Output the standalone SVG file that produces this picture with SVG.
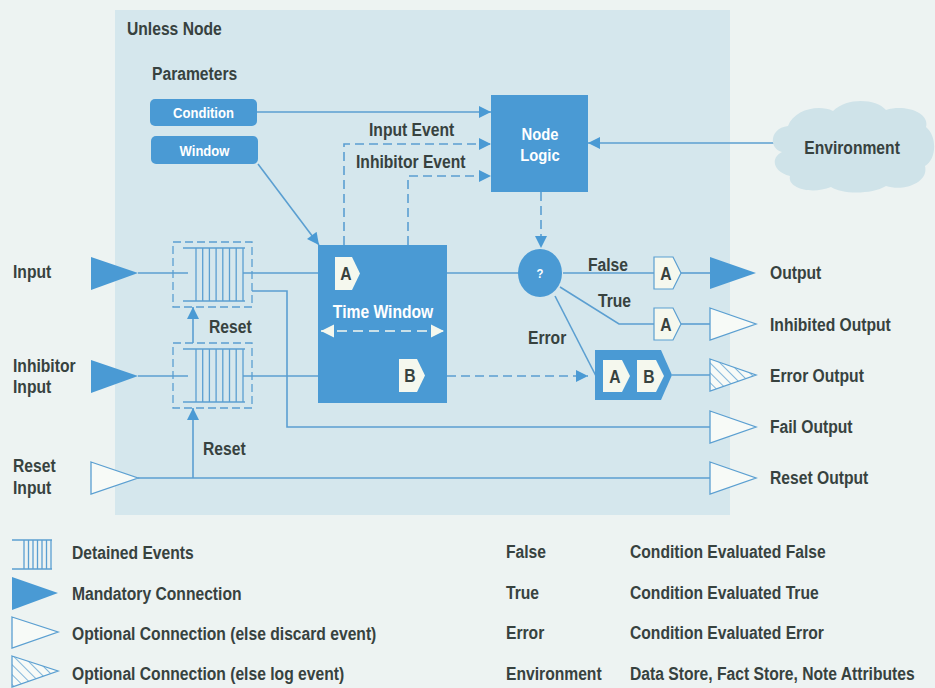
<svg xmlns="http://www.w3.org/2000/svg" width="935" height="688" viewBox="0 0 935 688">
<style>
.t,.w{font-family:"Liberation Sans",Arial,sans-serif;font-weight:bold;transform-box:fill-box;transform-origin:0% 50%;transform:scaleX(0.87)}
.t{font-size:18px;fill:#37423f}
.w{font-size:15px;fill:#ffffff}
.c{transform-origin:50% 50%}
.ln{fill:none;stroke:#5b9fd1;stroke-width:1.6}
.dash{stroke-dasharray:9,5}
.lt{fill:none;stroke:#d8ecf8;stroke-width:1.6}
.blue{fill:#4a9ad4}
.tag{fill:#f5f8ee;stroke:#5b9fd1;stroke-width:1.2}
.tagw{fill:#f5f8ee}
.tri-f{fill:#4a9ad4}
.tri-o{fill:#f7faf7;stroke:#5b9fd1;stroke-width:1.3}
.tri-h{fill:url(#hatch);stroke:#5b9fd1;stroke-width:1.3}
.buf{fill:none;stroke:#5b9fd1;stroke-width:1.3}
.bufd{fill:none;stroke:#5b9fd1;stroke-width:1.3;stroke-dasharray:8,4}
</style>
<defs>
<marker id="ah" viewBox="0 0 10 10" refX="10" refY="5" markerWidth="13" markerHeight="12" markerUnits="userSpaceOnUse" orient="auto">
<path d="M0,0 L10,5 L0,10 z" fill="#4a9ad4"/>
</marker>
<marker id="ahw" viewBox="0 0 10 10" refX="10" refY="5" markerWidth="13" markerHeight="14" markerUnits="userSpaceOnUse" orient="auto">
<path d="M0,0 L10,5 L0,10 z" fill="#f5f8ee"/>
</marker>
<marker id="ahws" viewBox="0 0 10 10" refX="0" refY="5" markerWidth="13" markerHeight="14" markerUnits="userSpaceOnUse" orient="auto">
<path d="M10,0 L0,5 L10,10 z" fill="#f5f8ee"/>
</marker>
<pattern id="hatch" patternUnits="userSpaceOnUse" width="7" height="7" patternTransform="rotate(-45)">
<rect width="7" height="7" fill="#f7faf7"/>
<line x1="0" y1="0" x2="0" y2="7" stroke="#5b9fd1" stroke-width="1.5"/>
</pattern>
</defs>

<rect x="0" y="0" width="935" height="688" fill="#edf3f2"/>
<rect x="115" y="10" width="615" height="505" fill="#d5e7ed"/>

<g id="connectors">
<line class="ln" x1="257" y1="112" x2="491" y2="112" marker-end="url(#ah)"/>
<polyline class="ln dash" points="344,245 344,144 491,144" marker-end="url(#ah)"/>
<line class="lt dash" x1="344" y1="245" x2="344" y2="257"/>
<polyline class="ln dash" points="408,245 408,176 491,176" marker-end="url(#ah)"/>
<line class="lt dash" x1="408" y1="245" x2="408" y2="359"/>
<line class="ln" x1="775" y1="143" x2="588" y2="143" marker-end="url(#ah)"/>
<line class="ln dash" x1="541" y1="192" x2="541" y2="248" marker-end="url(#ah)"/>
<line class="ln" x1="258" y1="164" x2="319" y2="245" marker-end="url(#ah)"/>
<line class="ln" x1="138" y1="273" x2="188" y2="273"/>
<line class="ln" x1="243" y1="273" x2="318" y2="273"/>
<line class="lt" x1="318" y1="273" x2="335" y2="273"/>
<line class="lt" x1="360" y1="273" x2="447" y2="273"/>
<line class="ln" x1="447" y1="273" x2="518" y2="273"/>
<line class="ln" x1="138" y1="376" x2="188" y2="376"/>
<line class="ln" x1="243" y1="376" x2="318" y2="376"/>
<line class="lt" x1="318" y1="376" x2="399" y2="376"/>
<line class="lt" x1="425" y1="376" x2="447" y2="376"/>
<line class="ln dash" x1="447" y1="376" x2="588" y2="376" marker-end="url(#ah)"/>
<polyline class="ln" points="252,291 287,291 287,427 710,427"/>
<line class="ln" x1="138" y1="478" x2="710" y2="478"/>
<line class="ln" x1="193" y1="478" x2="193" y2="408" marker-end="url(#ah)"/>
<line class="ln" x1="193" y1="343" x2="193" y2="307" marker-end="url(#ah)"/>
<line class="ln" x1="563" y1="273" x2="654" y2="273"/>
<line class="ln" x1="681" y1="273" x2="710" y2="273"/>
<polyline class="ln" points="560,287 619,324 654,324"/>
<line class="ln" x1="681" y1="324" x2="710" y2="324"/>
<line class="ln" x1="555" y1="296" x2="597" y2="378"/>
<line class="ln" x1="672" y1="375" x2="710" y2="375"/>
</g>

<text class="t" x="127" y="35">Unless Node</text>
<text class="t" x="152" y="80">Parameters</text>

<g id="condition">
<rect class="blue" x="150" y="99" width="107" height="27" rx="5"/>
<text class="w c" x="203.5" y="118" text-anchor="middle">Condition</text>
</g>
<g id="window">
<rect class="blue" x="151" y="136" width="107" height="28" rx="5"/>
<text class="w c" x="204.5" y="156" text-anchor="middle">Window</text>
</g>

<g id="node-logic">
<rect class="blue" x="491" y="95" width="97" height="97"/>
<text class="w c" x="540" y="140" text-anchor="middle" style="font-size:17px">Node</text>
<text class="w c" x="540" y="161" text-anchor="middle" style="font-size:17px">Logic</text>
</g>
<text class="t" x="369" y="136">Input Event</text>
<text class="t" x="356" y="168">Inhibitor Event</text>

<g id="environment">
<path d="M782,152 C768,148 770,128 788,126 C794,110 818,104 833,111 C848,97 876,99 886,110 C906,104 930,113 926,127 C938,137 936,160 925,166 C929,182 905,192 886,186 C871,195 841,194 831,187 C811,195 787,188 790,176 C773,172 770,158 782,152 Z" fill="#cfe3e9"/>
<text class="t c" x="852" y="154" text-anchor="middle">Environment</text>
</g>

<g id="time-window">
<rect class="blue" x="318" y="245" width="129" height="158"/>
<text class="w c" x="383" y="318" text-anchor="middle" style="font-size:18px">Time Window</text>
<line x1="321" y1="331" x2="444" y2="331" stroke="#f5f8ee" stroke-width="1.6" stroke-dasharray="10,6" marker-start="url(#ahws)" marker-end="url(#ahw)"/>
<path class="tagw" d="M335,257 L352,257 L360,273.5 L352,290 L335,290 Z"/>
<text class="t c" x="346" y="280" text-anchor="middle">A</text>
<path class="tagw" d="M399,359 L417,359 L425,375.5 L417,392 L399,392 Z"/>
<text class="t c" x="410" y="382" text-anchor="middle">B</text>
</g>

<g id="decision">
<ellipse class="blue" cx="540" cy="273" rx="22" ry="24"/>
<text class="w c" x="540" y="278" text-anchor="middle" style="font-size:13px">?</text>
</g>
<text class="t" x="588" y="271">False</text>
<text class="t" x="598" y="307">True</text>
<text class="t" x="528" y="344">Error</text>

<g id="buffer-input">
<rect class="bufd" x="173" y="242" width="79" height="65"/>
<line class="buf" x1="183" y1="248" x2="245" y2="248"/>
<line class="buf" x1="183" y1="301" x2="245" y2="301"/>
<path class="buf" d="M196,248V301M202.7,248V301M209.4,248V301M216.1,248V301M222.8,248V301M229.5,248V301M236.2,248V301M243,248V301"/>
</g>
<g id="buffer-inhibitor">
<rect class="bufd" x="173" y="343" width="79" height="65"/>
<line class="buf" x1="183" y1="349" x2="245" y2="349"/>
<line class="buf" x1="183" y1="402" x2="245" y2="402"/>
<path class="buf" d="M196,349V402M202.7,349V402M209.4,349V402M216.1,349V402M222.8,349V402M229.5,349V402M236.2,349V402M243,349V402"/>
</g>
<text class="t" x="209" y="333">Reset</text>
<text class="t" x="203" y="455">Reset</text>

<g id="input">
<path class="tri-f" d="M91,257 L138,273 L91,290 Z"/>
<text class="t" x="13" y="278">Input</text>
</g>
<g id="inhibitor-input">
<path class="tri-f" d="M91,360 L138,376 L91,393 Z"/>
<text class="t" x="13" y="372">Inhibitor</text>
<text class="t" x="13" y="393">Input</text>
</g>
<g id="reset-input">
<path class="tri-o" d="M91,462 L138,478 L91,494 Z"/>
<text class="t" x="13" y="472">Reset</text>
<text class="t" x="13" y="494">Input</text>
</g>

<g id="tag-false">
<path class="tag" d="M654,257 L673,257 L681,273 L673,289 L654,289 Z"/>
<text class="t c" x="666" y="280" text-anchor="middle">A</text>
</g>
<g id="tag-true">
<path class="tag" d="M654,308 L673,308 L681,324 L673,340 L654,340 Z"/>
<text class="t c" x="666" y="331" text-anchor="middle">A</text>
</g>
<g id="tag-error">
<path class="blue" d="M595,350 L661,350 L672,375 L661,400 L595,400 Z"/>
<path class="tagw" d="M603,360 L622,360 L630,376 L622,392 L603,392 Z"/>
<text class="t c" x="615" y="383" text-anchor="middle">A</text>
<path class="tagw" d="M637,360 L656,360 L664,376 L656,392 L637,392 Z"/>
<text class="t c" x="649" y="383" text-anchor="middle">B</text>
</g>

<g id="output">
<path class="tri-f" d="M710,257 L756,273 L710,289 Z"/>
<text class="t" x="770" y="279">Output</text>
</g>
<g id="inhibited-output">
<path class="tri-o" d="M710,308 L756,324 L710,340 Z"/>
<text class="t" x="770" y="331">Inhibited Output</text>
</g>
<g id="error-output">
<path class="tri-h" d="M710,359 L756,375 L710,391 Z"/>
<text class="t" x="770" y="382">Error Output</text>
</g>
<g id="fail-output">
<path class="tri-o" d="M710,411 L756,427 L710,443 Z"/>
<text class="t" x="770" y="433">Fail Output</text>
</g>
<g id="reset-output">
<path class="tri-o" d="M710,462 L756,478 L710,494 Z"/>
<text class="t" x="770" y="484">Reset Output</text>
</g>

<g id="legend">
<line class="buf" x1="12" y1="540" x2="52" y2="540"/>
<line class="buf" x1="12" y1="569" x2="52" y2="569"/>
<path class="buf" d="M24,540V569M28.5,540V569M33,540V569M37.5,540V569M42,540V569M46.5,540V569M51,540V569"/>
<text class="t" x="72" y="559">Detained Events</text>
<path class="tri-f" d="M12,577 L58,593 L12,610 Z"/>
<text class="t" x="72" y="600">Mandatory Connection</text>
<path class="tri-o" d="M12,617 L58,632 L12,648 Z"/>
<text class="t" x="72" y="640">Optional Connection (else discard event)</text>
<path class="tri-h" d="M12,656 L58,671 L12,687 Z"/>
<text class="t" x="72" y="680">Optional Connection (else log event)</text>
<text class="t" x="506" y="558">False</text>
<text class="t" x="630" y="558">Condition Evaluated False</text>
<text class="t" x="506" y="599">True</text>
<text class="t" x="630" y="599">Condition Evaluated True</text>
<text class="t" x="506" y="639">Error</text>
<text class="t" x="630" y="639">Condition Evaluated Error</text>
<text class="t" x="506" y="680">Environment</text>
<text class="t" x="630" y="680">Data Store, Fact Store, Note Attributes</text>
</g>
</svg>
